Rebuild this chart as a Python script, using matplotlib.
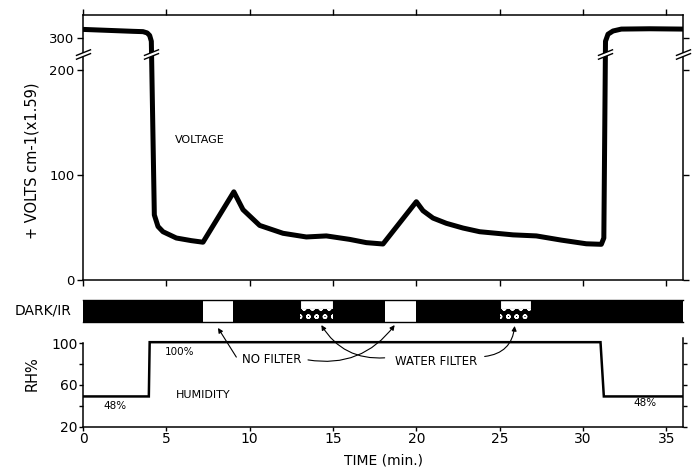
import numpy as np
import matplotlib
matplotlib.use('Agg')
import matplotlib.pyplot as plt
from matplotlib.path import Path

# ---- data ----
t_volt = [0, 1.5, 3.0, 3.6, 3.85, 4.0, 4.1, 4.28, 4.5, 4.8, 5.6, 6.5, 7.2,
          9.05, 9.6, 10.6, 12.0, 13.4, 14.6, 16.0, 17.0, 18.0,
          20.0, 20.4, 21.0, 21.8, 22.8, 23.8, 25.8, 27.2, 28.7, 30.2, 31.1,
          31.25, 31.35, 31.5, 31.8, 32.3, 34.0, 36.0]
volt = [327, 324, 321, 320, 316, 308, 290, 62, 51, 46, 40, 37.5, 36,
        84, 67, 52, 44.5, 41, 42, 38.7, 35.6, 34.3,
        74.6, 66, 59, 54, 49.5, 46, 43, 42, 38, 34.5, 34,
        40, 290, 312, 322, 328, 329, 328]

t_rh = [0, 3.95, 4.0, 31.05, 31.25, 36]
rh = [49, 49, 101, 101, 49, 49]

# illumination bar: start, end, kind
seg_start = [0, 7.2, 9.0, 13.0, 15.0, 18.1, 20.0, 25.0, 26.9]
seg_end = [7.2, 9.0, 13.0, 15.0, 18.1, 20.0, 25.0, 26.9, 36.0]
seg_kind = ['dark', 'ir', 'dark', 'water', 'dark', 'ir', 'dark', 'water', 'dark']

xticks = [0, 5, 10, 15, 20, 25, 30, 35]
vticks = [0, 100, 200, 300]
rhticks = [20, 60, 100]

BRK = 200.0   # axis break
SQ = 0.305    # compression above the break
V_BREAK = 250


def fwd(v):
    v = np.asarray(v, dtype=float)
    return np.where(v <= BRK, v, BRK + (v - BRK) * SQ)


def inv(u):
    u = np.asarray(u, dtype=float)
    return np.where(u <= BRK, u, BRK + (u - BRK) / SQ)


W, H = 695, 471
fig = plt.figure(figsize=(W / 100, H / 100), dpi=100)

ax_v = fig.add_axes([83 / W, (H - 280) / H, 600 / W, 265 / H])
ax_b = fig.add_axes([83 / W, (H - 322) / H, 600 / W, 22 / H])
ax_h = fig.add_axes([83 / W, (H - 426.7) / H, 600 / W, 88.7 / H])

# ---- voltage panel ----
ax_v.set_yscale('function', functions=(fwd, inv))
ax_v.plot(t_volt, volt, color='k', lw=3.6, solid_joinstyle='round', solid_capstyle='butt')
ax_v.set_xlim(0, 36)
ax_v.set_ylim(0, 372)
ax_v.set_yticks(vticks)
ax_v.set_yticklabels([str(v) for v in vticks])
ax_v.minorticks_off()
ax_v.set_xticks(xticks)
ax_v.set_xticklabels([])
ax_v.tick_params(direction='out', length=4, width=1, labelsize=9.5, pad=2,
                 top=True, right=True, labelright=False)
for s in ax_v.spines.values():
    s.set_linewidth(1.1)
ax_v.set_ylabel('+ VOLTS cm-1(x1.59)', fontsize=10.5)
ax_v.yaxis.set_label_coords(-0.072, 0.45)
ax_v.text(7.0, 133, 'VOLTAGE', fontsize=8, ha='center', va='center')

# break marks: white gap between two slashes
gap = Path([(-1, -0.65), (1, 0.15), (1, 0.65), (-1, -0.15), (-1, -0.65)])
slashes = Path([(-1, -0.65), (1, 0.15), (-1, -0.15), (1, 0.65)],
               [Path.MOVETO, Path.LINETO, Path.MOVETO, Path.LINETO])
brk_x = [0, 36, 4.05, 31.3]
for bx in brk_x:
    ax_v.plot([bx], [V_BREAK], marker=gap, ms=11, mfc='white', mec='none',
              clip_on=False, zorder=5)
    ax_v.plot([bx], [V_BREAK], marker=slashes, ms=11, mfc='none', mec='k',
              mew=1.0, clip_on=False, zorder=6)

# ---- dark / IR bar ----
ax_b.set_xlim(0, 36)
ax_b.set_ylim(0, 1)
ax_b.axis('off')
for a, b, k in zip(seg_start, seg_end, seg_kind):
    if k == 'dark':
        ax_b.barh(0.5, b - a, left=a, height=1, color='k', lw=0)
    elif k == 'ir':
        ax_b.barh(0.5, b - a, left=a, height=1, color='white', lw=0)
    else:
        ax_b.barh(0.79, b - a, left=a, height=0.42, color='white', edgecolor='k', lw=0.8)
        ax_b.barh(0.29, b - a, left=a, height=0.58, color='k', edgecolor='white',
                  lw=0, hatch='oo')
ax_b.plot([0, 36], [1, 1], color='k', lw=1.0, clip_on=False)
ax_b.plot([0, 36], [0, 0], color='k', lw=1.0, clip_on=False)
fig.text(72 / W, 1 - 311 / H, 'DARK/IR', fontsize=10, ha='right', va='center')

# ---- humidity panel ----
ax_h.plot(t_rh, rh, color='k', lw=1.8, solid_joinstyle='miter')
ax_h.set_xlim(0, 36)
ax_h.set_ylim(20, 105)
ax_h.set_xticks(xticks)
ax_h.set_xticklabels([str(x) for x in xticks])
ax_h.set_yticks(rhticks)
ax_h.set_yticks([40, 80], minor=True)
ax_h.tick_params(direction='out', length=3, width=1, labelsize=10, pad=1,
                 right=True, labelright=False)
ax_h.tick_params(which='minor', direction='out', length=3, width=1, right=True)
ax_h.spines['top'].set_visible(False)
ax_h.spines['left'].set_bounds(20, 100)
for s in ax_h.spines.values():
    s.set_linewidth(1.1)
ax_h.set_ylabel('RH%', fontsize=10.5)
ax_h.yaxis.set_label_coords(-0.072, 0.6)
ax_h.set_xlabel('TIME (min.)', fontsize=10, labelpad=5)

ax_h.text(5.8, 92, '100%', fontsize=7.5, ha='center', va='center')
ax_h.text(1.9, 40, '48%', fontsize=7.5, ha='center', va='center')
ax_h.text(33.7, 43, '48%', fontsize=7.5, ha='center', va='center')
ax_h.text(7.2, 50.5, 'HUMIDITY', fontsize=8, ha='center', va='center')
ax_h.text(11.35, 84, 'NO FILTER', fontsize=8.5, ha='center', va='center')
ax_h.text(21.2, 82.5, 'WATER FILTER', fontsize=8.5, ha='center', va='center')

# arrows: (tail in humidity axes, head in bar axes, curvature)
arrows = [((9.2, 86.7), (8.1, -0.27), 0.0),
          ((13.5, 84), (18.7, -0.14), 0.3),
          ((18.1, 86), (14.3, -0.14), -0.3),
          ((24.1, 87.3), (25.9, -0.18), 0.4)]
for tail, head, rad in arrows:
    ax_h.annotate('', xy=head, xycoords=ax_b.transData,
                  xytext=tail, textcoords=ax_h.transData,
                  arrowprops=dict(arrowstyle='-|>', connectionstyle='arc3,rad=%s' % rad,
                                  lw=0.8, color='k', mutation_scale=7,
                                  shrinkA=0, shrinkB=0),
                  annotation_clip=False)

fig.savefig('out.png', dpi=100)
